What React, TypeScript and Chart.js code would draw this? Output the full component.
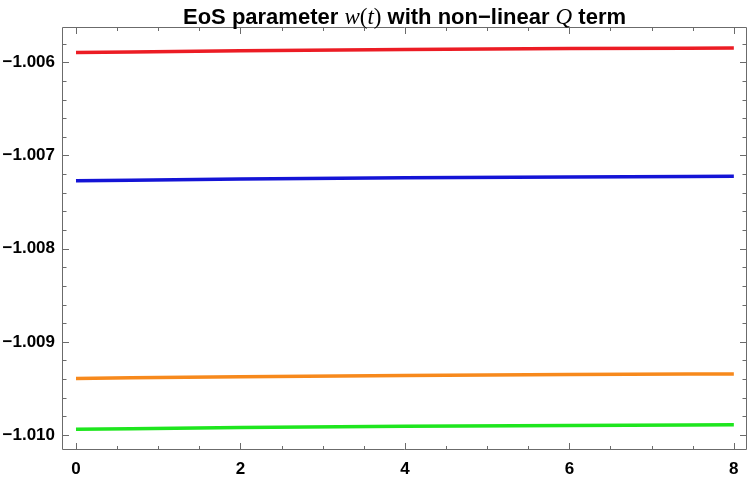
import { useEffect, useRef } from "react";
import { Chart, registerables } from "chart.js";

Chart.register(...registerables);

// ---- data ----
const T = [0, 2, 4, 6, 8];
const W_RED = [-1.0058948, -1.0058766, -1.0058627, -1.005853, -1.0058466];
const W_BLUE = [-1.0072715, -1.0072532, -1.0072393, -1.0072296, -1.0072232];
const W_ORANGE = [-1.0093927, -1.0093745, -1.0093605, -1.0093509, -1.0093444];
const W_GREEN = [-1.0099388, -1.0099206, -1.0099067, -1.009897, -1.0098906];

const X_TICKS = [0, 2, 4, 6, 8];
const Y_TICKS = [-1.01, -1.009, -1.008, -1.007, -1.006];
const X_MINOR_STEP = 0.5;
const Y_MINOR_STEP = 0.0002;

const TITLE_PARTS = [
  { text: "EoS parameter ", math: false, italic: false },
  { text: "w", math: true, italic: true },
  { text: "(", math: true, italic: false },
  { text: "t", math: true, italic: true },
  { text: ")", math: true, italic: false },
  { text: " with non\u2212linear ", math: false, italic: false },
  { text: "Q", math: true, italic: true },
  { text: " term", math: false, italic: false },
];

const SERIES = [
  { label: "red", values: W_RED, color: "#ec1c24" },
  { label: "blue", values: W_BLUE, color: "#1414d6" },
  { label: "orange", values: W_ORANGE, color: "#f7891c" },
  { label: "green", values: W_GREEN, color: "#1ee61e" },
];

const FRAME_COLOR = "#6b6b6b";

const framePlugin = {
  id: "frameTicks",
  afterDatasetsDraw(chart: any) {
    const { ctx, chartArea, scales } = chart;
    const { left, right, top, bottom } = chartArea;
    const xs = scales.x;
    const ys = scales.y;
    ctx.save();
    ctx.strokeStyle = FRAME_COLOR;
    ctx.lineWidth = 1;
    ctx.beginPath();
    ctx.rect(left + 0.5, top + 0.5, right - left - 1, bottom - top - 1);
    ctx.stroke();

    const line = (x1: number, y1: number, x2: number, y2: number) => {
      ctx.moveTo(x1, y1);
      ctx.lineTo(x2, y2);
    };
    ctx.beginPath();
    const xStart = Math.ceil(xs.min / X_MINOR_STEP);
    const xEnd = Math.floor(xs.max / X_MINOR_STEP);
    for (let i = xStart; i <= xEnd; i++) {
      const v = i * X_MINOR_STEP;
      const major = X_TICKS.some((t) => Math.abs(t - v) < 1e-9);
      const len = major ? 7 : 4;
      const px = Math.round(xs.getPixelForValue(v)) + 0.5;
      line(px, bottom, px, bottom - len);
      line(px, top, px, top + len);
    }
    const yStart = Math.ceil(ys.min / Y_MINOR_STEP - 1e-6);
    const yEnd = Math.floor(ys.max / Y_MINOR_STEP + 1e-6);
    for (let i = yStart; i <= yEnd; i++) {
      const v = i * Y_MINOR_STEP;
      const major = Y_TICKS.some((t) => Math.abs(t - v) < 1e-9);
      const len = major ? 7 : 4.5;
      const py = Math.round(ys.getPixelForValue(v)) + 0.5;
      line(left, py, left + len, py);
      line(right, py, right - len, py);
    }
    ctx.stroke();
    ctx.restore();
  },
  afterDraw(chart: any) {
    const { ctx, chartArea } = chart;
    const cx = (chartArea.left + chartArea.right) / 2;
    const baseY = 24;
    ctx.save();
    ctx.fillStyle = "#000";
    ctx.textBaseline = "alphabetic";
    const fontFor = (p: any) =>
      p.math
        ? `${p.italic ? "italic " : ""}23px "Liberation Serif", "DejaVu Serif", serif`
        : `bold 22px "Liberation Sans", Arial, sans-serif`;
    let total = 0;
    const widths = TITLE_PARTS.map((p) => {
      ctx.font = fontFor(p);
      const w = ctx.measureText(p.text).width;
      total += w;
      return w;
    });
    let x = cx - total / 2;
    TITLE_PARTS.forEach((p, i) => {
      ctx.font = fontFor(p);
      ctx.textAlign = "left";
      ctx.fillText(p.text, x, baseY);
      x += widths[i];
    });
    ctx.restore();
  },
};

export default function App() {
  const ref = useRef<HTMLCanvasElement | null>(null);
  useEffect(() => {
    document.body.style.margin = "0";
    if (!ref.current) return;
    const tickFont = { family: '"Liberation Sans", Arial, sans-serif', size: 17, weight: "bold" as const };
    const chart = new Chart(ref.current, {
      type: "line",
      data: {
        datasets: SERIES.map((s) => ({
          label: s.label,
          data: T.map((t, i) => ({ x: t, y: s.values[i] })),
          borderColor: s.color,
          backgroundColor: s.color,
          borderWidth: 3.5,
          borderCapStyle: "butt" as const,
          pointRadius: 0,
          cubicInterpolationMode: "monotone" as const,
          fill: false,
        })),
      },
      options: {
        animation: false,
        responsive: false,
        maintainAspectRatio: false,
        layout: { padding: { top: 27, right: 3, left: 0, bottom: 0 } },
        plugins: {
          legend: { display: false },
          tooltip: { enabled: false },
          title: { display: false },
        },
        scales: {
          x: {
            type: "linear",
            min: -0.17,
            max: 8.16,
            grid: { display: false, drawTicks: false },
            border: { display: false },
            ticks: {
              color: "#000",
              font: tickFont,
              padding: 9,
              maxRotation: 0,
              autoSkip: false,
              callback: (v: any) => String(v),
            },
            afterBuildTicks: (s: any) => {
              s.ticks = X_TICKS.map((v) => ({ value: v }));
            },
            afterFit: (s: any) => {
              s.height = 27;
            },
          },
          y: {
            type: "linear",
            min: -1.010161,
            max: -1.005621,
            grid: { display: false, drawTicks: false },
            border: { display: false },
            ticks: {
              color: "#000",
              font: tickFont,
              padding: 7,
              autoSkip: false,
              callback: (v: any) => "\u2212" + Math.abs(Number(v)).toFixed(3),
            },
            afterBuildTicks: (s: any) => {
              s.ticks = Y_TICKS.map((v) => ({ value: v }));
            },
            afterFit: (s: any) => {
              s.width = 62;
            },
          },
        },
      },
      plugins: [framePlugin],
    });
    return () => chart.destroy();
  }, []);
  return (
    <div style={{ width: 750, height: 477 }}>
      <canvas ref={ref} width={750} height={477} style={{ display: "block" }} />
    </div>
  );
}
